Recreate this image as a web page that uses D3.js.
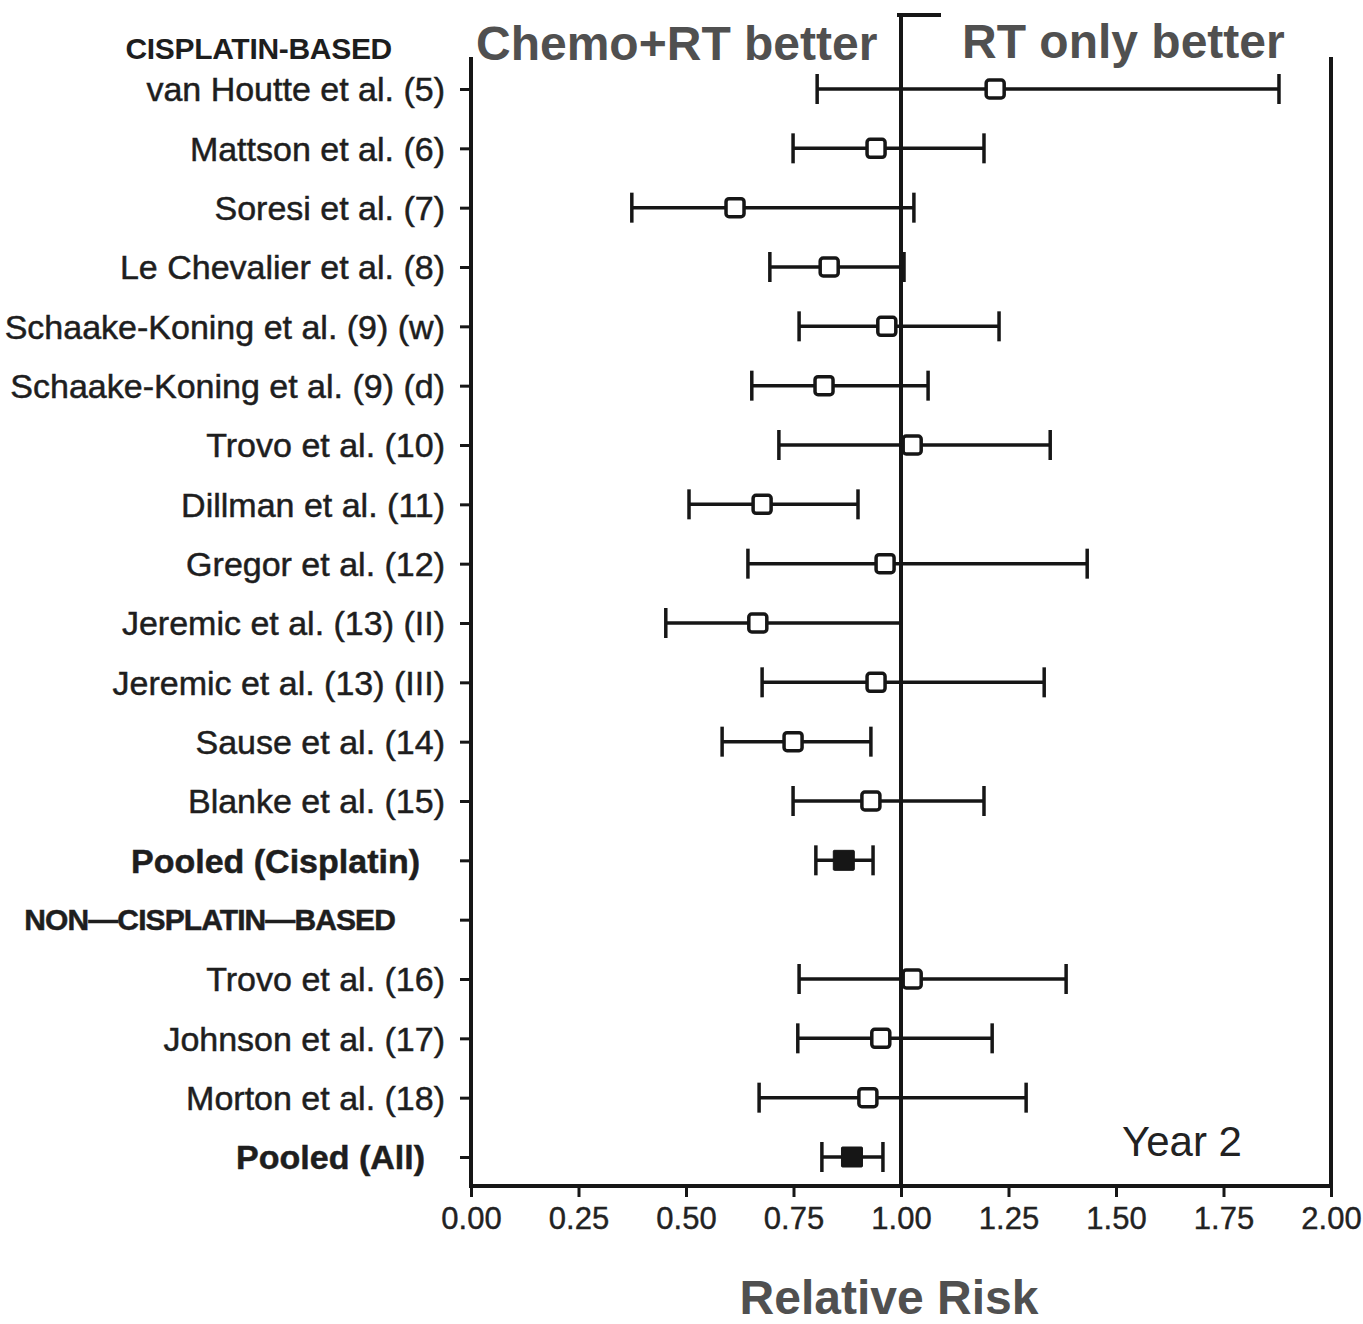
<!DOCTYPE html>
<html>
<head>
<meta charset="utf-8">
<script src="https://cdn.jsdelivr.net/npm/d3@7"></script>
<style>
  body { margin: 0; background: #fff; }
  svg { display: block; font-family: "Liberation Sans", Arial, Helvetica, sans-serif; }
</style>
</head>
<body>
<div id="chart"></div>
<script>
// rows of the forest plot, top to bottom
const rows = [
  "van Houtte et al. (5)",
  "Mattson et al. (6)",
  "Soresi et al. (7)",
  "Le Chevalier et al. (8)",
  "Schaake-Koning et al. (9) (w)",
  "Schaake-Koning et al. (9) (d)",
  "Trovo et al. (10)",
  "Dillman et al. (11)",
  "Gregor et al. (12)",
  "Jeremic et al. (13) (II)",
  "Jeremic et al. (13) (III)",
  "Sause et al. (14)",
  "Blanke et al. (15)",
  "Pooled (Cisplatin)",
  "NON\u2014CISPLATIN\u2014BASED",
  "Trovo et al. (16)",
  "Johnson et al. (17)",
  "Morton et al. (18)",
  "Pooled (All)"
];
const rowKind = ["study","study","study","study","study","study","study","study","study","study","study","study","study",
  "pooled","header","study","study","study","pooled"];

// relative risk with 95% CI
const estimate = [1.219, 0.942, 0.614, 0.833, 0.967, 0.821, 1.026, 0.677, 0.963, 0.667, 0.942, 0.749, 0.930,
  0.867, null, 1.026, 0.953, 0.923, 0.886];
const lower = [0.805, 0.749, 0.374, 0.695, 0.763, 0.653, 0.716, 0.507, 0.644, 0.453, 0.677, 0.584, 0.749,
  0.802, null, 0.763, 0.760, 0.670, 0.816];
const upper = [1.879, 1.193, 1.030, 1.007, 1.228, 1.063, 1.347, 0.900, 1.433, 1.000, 1.333, 0.930, 1.193,
  0.935, null, 1.384, 1.212, 1.291, 0.958];

const xTicks = [0, 0.25, 0.5, 0.75, 1, 1.25, 1.5, 1.75, 2];
const topHeader = "CISPLATIN-BASED";

const W = 1363, H = 1324;
const ink = "#161616";

const svg = d3.select("#chart").append("svg").attr("width", W).attr("height", H);

const x = d3.scaleLinear().domain([0, 2]).range([471, 1331]);
const y = d3.scalePoint().domain(rows).range([89, 1157]);
const frameTop = 15, frameBottom = 1186;

// plot frame
svg.append("rect")
  .attr("x", x(0)).attr("y", frameTop)
  .attr("width", x(2) - x(0)).attr("height", frameBottom - frameTop)
  .attr("fill", "none").attr("stroke", ink).attr("stroke-width", 4);

// reference line at RR = 1
svg.append("line")
  .attr("x1", x(1)).attr("x2", x(1))
  .attr("y1", frameTop).attr("y2", frameBottom)
  .attr("stroke", ink).attr("stroke-width", 4);

// x axis
const xAxis = svg.append("g")
  .attr("transform", `translate(0,${frameBottom})`)
  .call(d3.axisBottom(x).tickValues(xTicks).tickFormat(d3.format(".2f")).tickSize(11).tickPadding(10));
xAxis.select(".domain").remove();
xAxis.selectAll("line").attr("stroke", ink).attr("stroke-width", 3);
xAxis.selectAll("text")
  .attr("font-size", 31).attr("fill", "#222")
  .attr("stroke", "#222").attr("stroke-width", 0.4)
  .attr("font-family", "'Liberation Sans', Arial, sans-serif");

// y axis ticks
const yAxis = svg.append("g")
  .attr("transform", `translate(${x(0)},0)`)
  .call(d3.axisLeft(y).tickSize(11).tickFormat(""));
yAxis.select(".domain").remove();
yAxis.selectAll("line").attr("stroke", ink).attr("stroke-width", 3);

// row labels
svg.append("g").selectAll("text")
  .data(rows)
  .join("text")
  .attr("x", (d, i) => rowKind[i] === "pooled" ? (d === "Pooled (All)" ? 425 : 420) : (rowKind[i] === "header" ? 395 : 445))
  .attr("y", d => y(d))
  .attr("dy", "0.36em")
  .attr("text-anchor", "end")
  .attr("font-size", (d, i) => rowKind[i] === "header" ? 30 : 34)
  .attr("font-weight", (d, i) => rowKind[i] === "study" ? "normal" : "bold")
  .attr("letter-spacing", (d, i) => rowKind[i] === "header" ? -0.9 : 0)
  .attr("fill", "#1e1e1e")
  .attr("stroke", "#1e1e1e").attr("stroke-width", 0.5)
  .text(d => d);

svg.append("text")
  .attr("x", 392).attr("y", y(rows[0]) - 41).attr("dy", "0.36em")
  .attr("text-anchor", "end")
  .attr("font-size", 30).attr("font-weight", "bold").attr("letter-spacing", -0.3)
  .attr("fill", "#1e1e1e")
  .text(topHeader);

// error bars
const idx = d3.range(rows.length).filter(i => estimate[i] !== null);
const bars = svg.append("g").attr("stroke", ink).attr("stroke-width", 3.5);
idx.forEach(i => {
  const yy = y(rows[i]);
  bars.append("line").attr("x1", x(lower[i])).attr("x2", x(upper[i])).attr("y1", yy).attr("y2", yy);
  [lower[i], upper[i]].forEach(v => {
    bars.append("line").attr("x1", x(v)).attr("x2", x(v)).attr("y1", yy - 15).attr("y2", yy + 15);
  });
});

// point estimates
svg.append("g").selectAll("rect")
  .data(idx)
  .join("rect")
  .attr("x", i => x(estimate[i]) - (rowKind[i] === "pooled" ? 10.5 : 9))
  .attr("y", i => y(rows[i]) - (rowKind[i] === "pooled" ? 10 : 9))
  .attr("width", i => rowKind[i] === "pooled" ? 21 : 18)
  .attr("height", i => rowKind[i] === "pooled" ? 20 : 18)
  .attr("rx", i => rowKind[i] === "pooled" ? 1 : 3)
  .attr("fill", i => rowKind[i] === "pooled" ? ink : "#fff")
  .attr("stroke", ink)
  .attr("stroke-width", i => rowKind[i] === "pooled" ? 1 : 3.5);

// "Year 2" note
svg.append("text")
  .attr("x", 1182).attr("y", 1156)
  .attr("text-anchor", "middle")
  .attr("font-size", 42).attr("fill", "#222")
  .text("Year 2");

// white patches with the direction labels on top
svg.append("rect").attr("x", 455).attr("y", 0).attr("width", 442).attr("height", 57).attr("fill", "#fff");
svg.append("rect").attr("x", 941).attr("y", 0).attr("width", 422).attr("height", 57).attr("fill", "#fff");

const sideLabel = svg.append("g")
  .attr("font-size", 48).attr("font-weight", "bold").attr("fill", "#505050");
sideLabel.append("text").attr("x", 476).attr("y", 60).text("Chemo+RT better");
sideLabel.append("text").attr("x", 962).attr("y", 58).text("RT only better");

svg.append("text")
  .attr("x", 889).attr("y", 1314)
  .attr("text-anchor", "middle")
  .attr("font-size", 48).attr("font-weight", "bold").attr("fill", "#505050")
  .text("Relative Risk");
</script>
</body>
</html>
